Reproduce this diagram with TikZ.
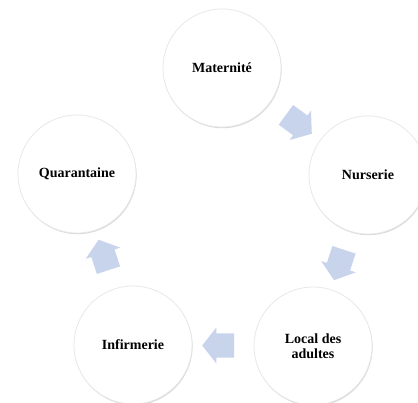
\documentclass[tikz,border=0pt]{standalone}
\usepackage{fontspec}
\setmainfont{Liberation Serif}
\usetikzlibrary{shapes.arrows,shadows,calc}
\definecolor{arrowblue}{HTML}{C8D3EC}
\tikzset{
  stage/.style={circle, minimum size=118pt, inner sep=0pt, fill=white,
    draw=black!9, line width=0.8pt,
    drop shadow={shadow xshift=0.6pt, shadow yshift=-1.2pt, opacity=0.15, fill=black},
    font=\fontsize{14}{15.5}\selectfont\bfseries, align=center, text=black},
  flow/.style={single arrow, fill=arrowblue, draw=none, inner xsep=0pt,
    inner ysep=12pt, minimum height=32pt, single arrow head extend=6pt,
    single arrow tip angle=104}
}
\begin{document}
\begin{tikzpicture}[x=1pt,y=1pt]
\useasboundingbox (0,0) rectangle (418,403);
\clip (0,0) rectangle (418,403);
\fill[white] (0,0) rectangle (418,403);
\node[stage] (mat) at (222,335) {Maternité};
\node[stage] (nur) at (368,228) {Nurserie};
\node[stage] (loc) at (313,57) {Local des\\adultes};
\node[stage] (inf) at (133,58) {Infirmerie};
\node[stage] (qua) at (77,229) {Quarantaine};
\node[flow, rotate=-36] (a1) at ($(mat)!0.5!(nur)$) {};
\node[flow, rotate=-108] (a2) at ($(nur)!0.5!(loc)$) {};
\node[flow, rotate=180] (a3) at ($(loc)!0.5!(inf)$) {};
\node[flow, rotate=108] (a4) at ($(inf)!0.5!(qua)$) {};
\end{tikzpicture}
\end{document}
